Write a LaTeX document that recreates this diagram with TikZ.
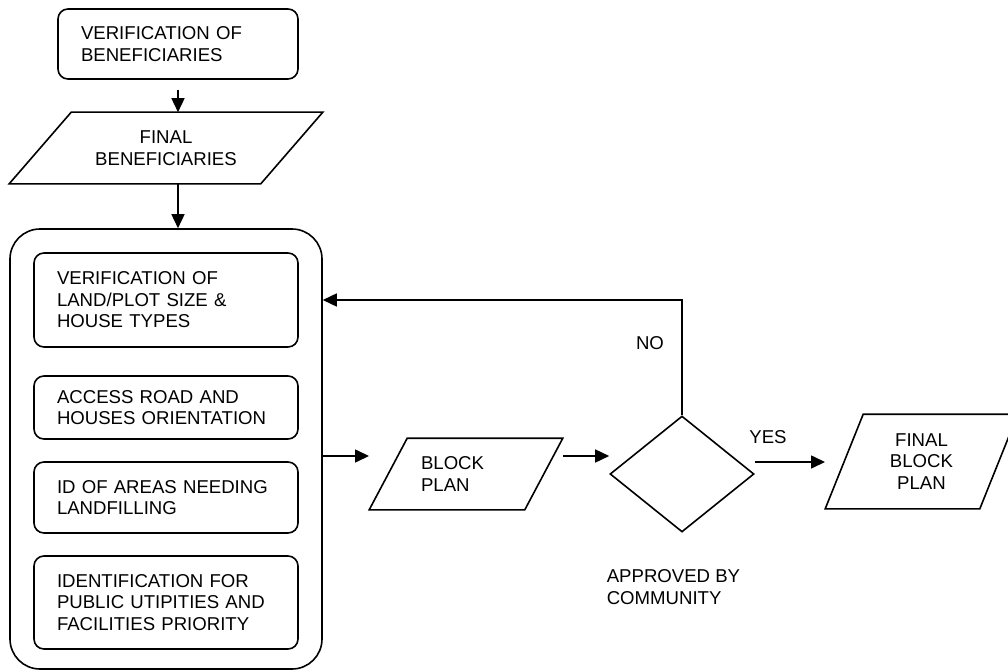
\documentclass[tikz,border=0pt]{standalone}
\usepackage{fontspec}
\setmainfont{Liberation Sans}
\usetikzlibrary{arrows.meta,shapes.geometric}
\begin{document}
\begin{tikzpicture}[x=1pt,y=-1pt,line width=1.6pt,
  every node/.style={font=\fontsize{18.6}{21.5}\selectfont, inner sep=0pt},
  arr/.style={-{Triangle[length=14pt,width=13pt]}},
  rbox/.style={draw, rounded corners=10pt, align=left, inner xsep=23pt, minimum width=#1},
  sbox/.style={rbox=264pt, text width=218pt},
  paraframe/.style={draw=none, minimum width=#1},
  lbl/.style={align=left}
]
\useasboundingbox (0,0) rectangle (1008,671);
\clip (0,0) rectangle (1008,671);

% top box
\node[rbox=240pt, text width=194pt, minimum height=70pt] (verif) at (178,44)
  {VERIFICATION OF\\BENEFICIARIES};

% final beneficiaries (parallelogram)
\node[paraframe=312pt, minimum height=70pt, align=center] (fb) at (166,148)
  {FINAL\\BENEFICIARIES};
\draw (fb.south west) -- ([xshift=62pt]fb.north west) -- (fb.north east)
  -- ([xshift=-62pt]fb.south east) -- cycle;

% big container
\node[draw, rounded corners=30pt, minimum width=312pt, minimum height=440pt] (big) at (166,449) {};

% inner boxes
\node[sbox, minimum height=94pt] (ia) at (166,300)
  {VERIFICATION OF\\LAND/PLOT SIZE \&\\HOUSE TYPES};
\node[sbox, minimum height=63pt] (ib) at (166,407.5)
  {ACCESS ROAD AND\\HOUSES ORIENTATION};
\node[sbox, minimum height=71pt] (ic) at (166,497.5)
  {ID OF AREAS NEEDING\\LANDFILLING};
\node[sbox, minimum height=93pt] (id) at (166,602.5)
  {IDENTIFICATION FOR\\PUBLIC UTIPITIES AND\\FACILITIES PRIORITY};

% block plan
\node[paraframe=192pt, minimum height=70pt, align=left, inner xsep=51pt, text width=90pt] (bp) at (466,474)
  {BLOCK\\PLAN};
\draw (bp.south west) -- ([xshift=38pt]bp.north west) -- (bp.north east)
  -- ([xshift=-38pt]bp.south east) -- cycle;

% decision
\node[draw, diamond, minimum width=144pt, minimum height=116pt] (dia) at (682,474) {};
\node[lbl, anchor=west] (appr) at (606,587) {APPROVED BY\\COMMUNITY};

% final block plan
\node[paraframe=191pt, minimum height=93pt, align=center] (fbp) at (921.5,461.5)
  {FINAL\\BLOCK\\PLAN};
\draw (fbp.south west) -- ([xshift=38pt]fbp.north west) -- (fbp.north east)
  -- ([xshift=-38pt]fbp.south east) -- cycle;

% labels
\node (no) at (650,343) {NO};
\node (yes) at (768,437) {YES};

% connectors
\draw[arr, shorten <=10pt] (verif.south) -- (verif.south |- fb.north);
\draw[arr] (verif.south |- fb.south) -- (verif.south |- big.north);
\draw[arr] (dia.north) |- (big.east |- ia.east);
\coordinate (bpin) at (369,456);
\draw[arr] (big.east |- bpin) -- (bpin);
\draw[arr] (bp.east |- bpin) -- (dia.west |- bpin);
\coordinate (yesend) at (825,462);
\draw[arr] (dia.east |- yesend) -- (yesend);
\end{tikzpicture}
\end{document}
